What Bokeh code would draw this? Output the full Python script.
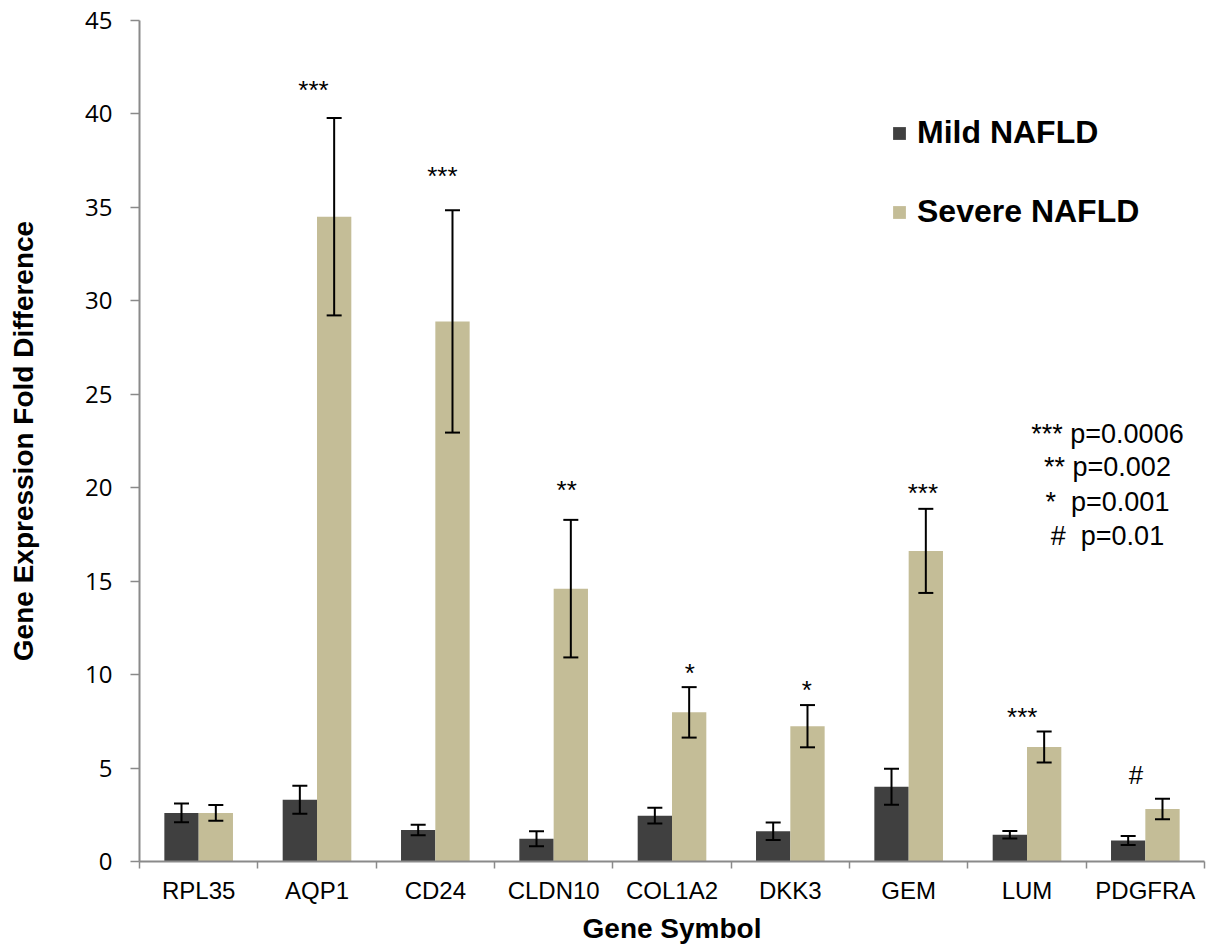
import numpy as np
from bokeh.plotting import figure
from bokeh.models import (Range1d, FixedTicker, ColumnDataSource, Whisker, TeeHead,
                          Legend, LegendItem)
from bokeh.core.properties import value
from bokeh.embed import file_html
from bokeh.resources import INLINE

# ---------------- data ----------------
genes = ["RPL35", "AQP1", "CD24", "CLDN10", "COL1A2", "DKK3", "GEM", "LUM", "PDGFRA"]
mild = [2.6, 3.3, 1.68, 1.22, 2.45, 1.62, 4.0, 1.43, 1.12]
mild_err = [0.5, 0.75, 0.28, 0.4, 0.42, 0.47, 0.96, 0.2, 0.24]
severe = [2.6, 34.5, 28.9, 14.6, 7.98, 7.24, 16.62, 6.13, 2.81]
severe_err = [0.42, 5.28, 5.95, 3.68, 1.35, 1.13, 2.25, 0.83, 0.55]
sig_marks = ["", "***", "***", "**", "*", "*", "***", "***", "#"]
sig_y = [0, 41.3, 36.7, 19.9, 10.1, 9.2, 19.7, 7.75, 4.63]
sig_dx = [0, -0.03, 0.06, 0.11, 0.15, 0.14, 0.12, -0.04, -0.08]
pvalue_lines = ["*** p=0.0006", "** p=0.002", "*\u00a0\u00a0p=0.001", "#\u00a0\u00a0p=0.01"]
pvalue_y = [22.9, 21.1, 19.25, 17.4]
y_ticks = list(range(0, 46, 5))

# ---------------- style ----------------
MILD_COLOR = "#404040"
SEVERE_COLOR = "#C4BD97"
AXIS_COLOR = "#8a8a8a"
FONT = "Liberation Sans"
BAR_W = 0.29

n = len(genes)
centers = np.arange(n) + 0.5
boundaries = list(np.arange(n + 1).astype(float))

p = figure(width=1209, height=946, output_backend="svg", toolbar_location=None,
           x_range=Range1d(0, n), y_range=Range1d(0, 45))
p.min_border_left = 139
p.min_border_right = 5
p.min_border_top = 20
p.min_border_bottom = 84
p.outline_line_color = None
p.grid.grid_line_color = None
p.background_fill_color = "white"

# bars
src_m = ColumnDataSource(dict(x=centers - BAR_W / 2, top=mild,
                              upper=np.array(mild) + np.array(mild_err),
                              lower=np.array(mild) - np.array(mild_err)))
src_s = ColumnDataSource(dict(x=centers + BAR_W / 2, top=severe,
                              upper=np.array(severe) + np.array(severe_err),
                              lower=np.array(severe) - np.array(severe_err)))
r_m = p.vbar(x="x", top="top", width=BAR_W, source=src_m, fill_color=MILD_COLOR, line_color=None)
r_s = p.vbar(x="x", top="top", width=BAR_W, source=src_s, fill_color=SEVERE_COLOR, line_color=None)

for src in (src_m, src_s):
    w = Whisker(base="x", upper="upper", lower="lower", source=src, dimension="height",
                line_color="black", line_width=2, level="overlay",
                upper_head=TeeHead(size=15, line_color="black", line_width=2),
                lower_head=TeeHead(size=15, line_color="black", line_width=2))
    p.add_layout(w)

# significance marks
sig_src = ColumnDataSource(dict(x=centers + np.array(sig_dx), y=sig_y, t=sig_marks))
p.text(x="x", y="y", text="t", source=sig_src, text_font=value(FONT),
       text_font_size="26px", text_align="center", text_baseline="middle", text_color="black")

# p-value key
pv_src = ColumnDataSource(dict(x=[8.18] * len(pvalue_lines), y=pvalue_y, t=pvalue_lines))
p.text(x="x", y="y", text="t", source=pv_src, text_font=value(FONT),
       text_font_size="27px", text_align="center", text_baseline="middle", text_color="black")

# axes
xa = p.xaxis[0]
xa.ticker = FixedTicker(ticks=list(centers), minor_ticks=boundaries)
xa.major_label_overrides = {float(c): g for c, g in zip(centers, genes)}
xa.major_tick_out = 0
xa.major_tick_in = 0
xa.minor_tick_out = 7
xa.minor_tick_in = 0
xa.minor_tick_line_color = AXIS_COLOR
xa.minor_tick_line_width = 1.5
xa.axis_line_color = AXIS_COLOR
xa.axis_line_width = 2
xa.major_label_text_font = FONT
xa.major_label_text_font_size = "24px"
xa.major_label_text_color = "black"
xa.major_label_standoff = 8
xa.axis_label = "Gene Symbol"
xa.axis_label_text_font = FONT
xa.axis_label_text_font_style = "bold"
xa.axis_label_text_font_size = "28px"
xa.axis_label_text_color = "black"
xa.axis_label_standoff = 6

ya = p.yaxis[0]
ya.ticker = FixedTicker(ticks=y_ticks, minor_ticks=[])
ya.major_tick_out = 9
ya.major_tick_in = 0
ya.major_tick_line_color = AXIS_COLOR
ya.major_tick_line_width = 1.5
ya.minor_tick_out = 0
ya.minor_tick_in = 0
ya.axis_line_color = AXIS_COLOR
ya.axis_line_width = 2
ya.major_label_text_font = "Open Sans"
ya.major_label_text_font_size = "24px"
ya.major_label_text_color = "black"
ya.major_label_standoff = 18
ya.axis_label = "Gene Expression Fold Difference"
ya.axis_label_text_font = FONT
ya.axis_label_text_font_style = "bold"
ya.axis_label_text_font_size = "28px"
ya.axis_label_text_color = "black"
ya.axis_label_standoff = 43

# legend
legend = Legend(items=[LegendItem(label="Mild NAFLD", renderers=[r_m]),
                       LegendItem(label="Severe NAFLD", renderers=[r_s])],
                location=(752, 631), orientation="vertical",
                glyph_width=16, glyph_height=16, label_standoff=10,
                label_text_font=FONT, label_text_font_size="32px",
                label_text_font_style="bold", label_text_color="black",
                spacing=42, padding=0, margin=0,
                background_fill_alpha=0, border_line_alpha=0)
p.add_layout(legend)

open("out.html", "w").write(file_html(p, INLINE))
